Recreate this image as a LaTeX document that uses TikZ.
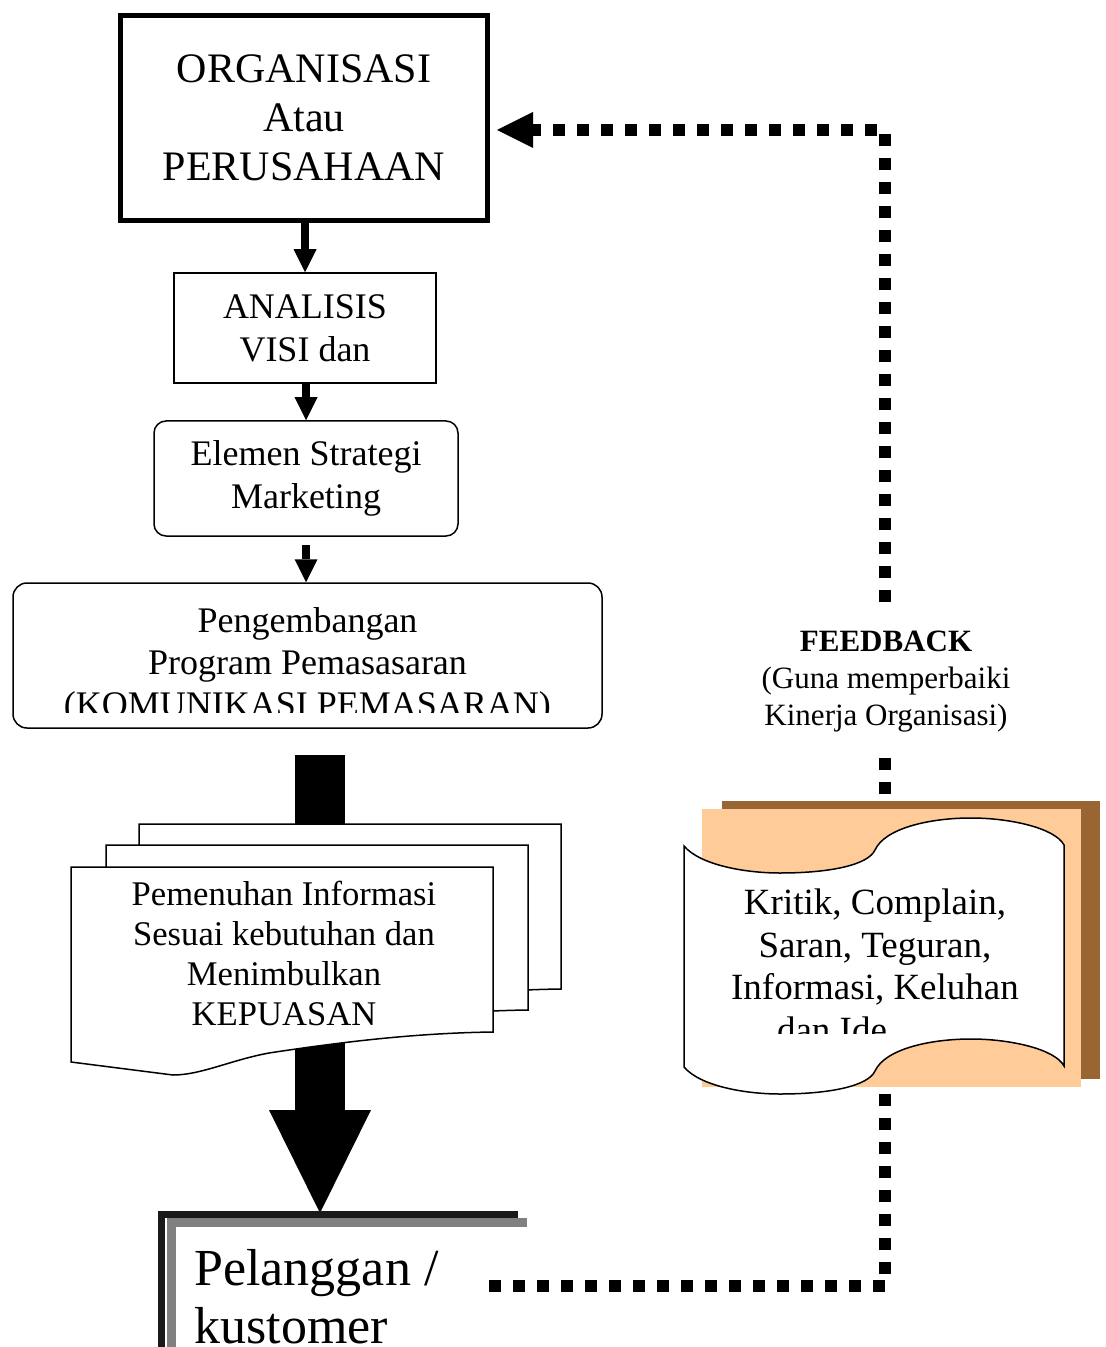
\documentclass[tikz,border=0pt]{standalone}
\usepackage{fontspec}
\setmainfont{Liberation Serif}
\usetikzlibrary{arrows.meta}
\definecolor{scrollbrown}{HTML}{996633}
\definecolor{scrollpeach}{HTML}{FFCC99}
\definecolor{pelshadow}{HTML}{1A1A1A}
\definecolor{pelgray}{HTML}{808080}
\tikzset{
  orgbox/.style={draw, line width=2.5pt, align=center, minimum width=183.5pt,
    minimum height=102.5pt, font=\fontsize{21}{24.5}\selectfont},
  plainbox/.style={draw, line width=0.75pt, align=center, font=\fontsize{18}{21.5}\selectfont},
  roundbox/.style={plainbox, rounded corners=6pt},
  bodytext/.style={align=center, inner sep=0pt},
  smallarrow/.style={line width=4pt, -{Triangle[width=11.5pt,length=11.5pt,line width=0pt]}},
  bigarrow/.style={line width=25pt, -{Triangle[width=51pt,length=51.5pt,line width=0pt]}},
  feedback/.style={line width=6pt, dash pattern=on 6pt off 6pt,
    -{Triangle[width=18pt,length=18pt,line width=0pt]}},
  docpage/.pic={
    \filldraw[fill=white, line width=0.75pt] (0,0) -- (422,0) -- (422,165)
      .. controls (345,166) and (270,175) .. (198,186)
      .. controls (160,193) and (130,208) .. (102,208) -- (0,195) -- cycle;
  }
}
\begin{document}
\begin{tikzpicture}[x=0.5pt,y=-0.5pt]
  \useasboundingbox (0,0) rectangle (1106,1347);
  % left column
  \node[orgbox] (org) at (304,118) {ORGANISASI\\Atau\\PERUSAHAAN};
  \node[plainbox, minimum width=131pt, minimum height=55pt] (anal) at (305,328) {ANALISIS\\VISI dan};
  \node[roundbox, minimum width=152pt, minimum height=57.5pt] (elem) at (306,478.5) {Elemen Strategi\\Marketing};
  \node[roundbox, rounded corners=7pt, minimum width=294.5pt, minimum height=72.5pt] (peng) at (307.5,655.5) {};
  \begin{scope}
    \clip (13,583) rectangle (602,712);
    \node[bodytext, font=\fontsize{18}{21}\selectfont] (pengtext) at (307.5,666)
      {Pengembangan\\Program Pemasasaran\\(KOMUNIKASI PEMASARAN)};
  \end{scope}
  \draw[smallarrow] (anal.north |- org.south) -- (anal.north);
  \draw[smallarrow] (elem.north |- anal.south) -- (elem.north);
  \draw[smallarrow, shorten <=4pt] (elem.south) -- (elem.south |- peng.north);
  % big arrow behind the pages
  \coordinate (bigtop) at (320,755);
  \coordinate (peltop) at (320,1213);
  \draw[bigarrow] (bigtop) -- (peltop);
  \pic at (139,824) {docpage};
  \pic at (106,845) {docpage};
  \pic at (71,867) {docpage};
  \node[bodytext, font=\fontsize{17.3}{20}\selectfont] (info) at (284,953)
    {Pemenuhan Informasi\\Sesuai kebutuhan dan\\Menimbulkan\\KEPUASAN};
  % customer
  \draw[line width=3.5pt, pelshadow] (161.5,1360) -- (161.5,1214.5) -- (518,1214.5);
  \draw[line width=4.5pt, pelgray] (171,1360) -- (171,1222.5) -- (527,1222.5);
  \node[anchor=north west, inner sep=0pt, align=left, font=\fontsize{26}{29}\selectfont] (pel)
    at (194,1249.5) {Pelanggan /\\kustomer};
  % feedback loop
  \coordinate (pelout) at (489,1286);
  \coordinate (fbcorner) at (885,1286);
  \coordinate (fbtop) at (885,130);
  \coordinate (orgin) at (497,130);
  \draw[feedback] (pelout) -- (fbcorner) -- (fbtop) -- (orgin);
  \node[fill=white, align=center, inner xsep=2pt, inner ysep=10pt,
    font=\fontsize{15.5}{18.5}\selectfont] (fb) at (886,682)
    {\textbf{FEEDBACK}\\(Guna memperbaiki\\Kinerja Organisasi)};
  % scroll
  \fill[scrollbrown] (722,801) rectangle (1100,1079);
  \fill[scrollpeach] (702,809) rectangle (1081,1087);
  \filldraw[fill=white, line width=0.75pt] (684,846)
    .. controls (700,865) and (745,873) .. (780,873)
    .. controls (830,873) and (868,865) .. (875,850)
    .. controls (885,828) and (930,818) .. (971,818)
    .. controls (1010,818) and (1055,828) .. (1064,845)
    -- (1064,1066)
    .. controls (1055,1049) and (1010,1039) .. (971,1039)
    .. controls (930,1039) and (885,1049) .. (875,1071)
    .. controls (868,1086) and (830,1094) .. (780,1094)
    .. controls (745,1094) and (700,1086) .. (684,1067) -- cycle;
  \begin{scope}
    \clip (684,800) rectangle (1064,1033);
    \node[bodytext, font=\fontsize{18.5}{21.25}\selectfont] (kritik) at (875,966)
      {Kritik, Complain,\\Saran, Teguran,\\Informasi, Keluhan\\dan Ide\hspace*{43pt}};
  \end{scope}
\end{tikzpicture}
\end{document}
